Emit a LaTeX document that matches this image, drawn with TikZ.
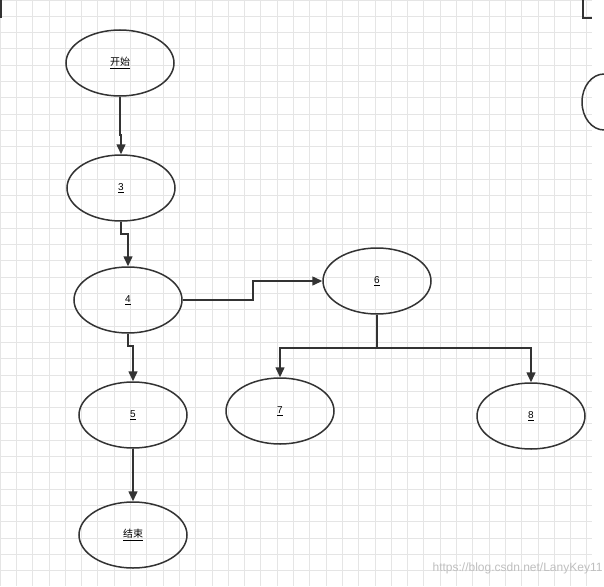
\documentclass[tikz,border=0pt]{standalone}
\usepackage{fontspec}
\setmainfont{Liberation Sans}
\newfontfamily\cjk{Noto Sans CJK SC}
\usetikzlibrary{positioning,arrows.meta,shapes.geometric}
\tikzstyle{stage}=[ellipse,draw=black!80,line width=1.5pt,minimum width=108pt,minimum height=66pt,inner sep=0,font=\normalsize]
\tikzstyle{flow}=[draw=black!80,line width=1.5pt,-{Triangle[length=10pt,width=9pt]}]
\begin{document}
\begin{tikzpicture}[x=1pt,y=-1pt]
\useasboundingbox (0,0) rectangle (604,586);
\fill[white] (0,0) rectangle (604,586);
\foreach \i in {0,...,36}
  \draw[black!10,line width=0.8pt] (\i*16.3,0) -- (\i*16.3,586);
\foreach \j in {0,...,35}
  \draw[black!10,line width=0.8pt] (0,\j*16.3) -- (592,\j*16.3);
% nodes
\node[stage] (start) at (120,63) {\cjk\underline{开始}};
\node[stage] (n3) at (121,188) {\underline{3}};
\node[stage] (n4) at (128,300) {\underline{4}};
\node[stage] (n5) at (133,415) {\underline{5}};
\node[stage] (end) at (133,535) {\cjk\underline{结束}};
\node[stage] (n6) at (377,281) {\underline{6}};
\node[stage] (n7) at (280,411) {\underline{7}};
\node[stage] (n8) at (531,416) {\underline{8}};
% connectors
\draw[flow] (start.south) -- ++(0,38) -| (n3.north);
\draw[flow] (n3.south) -- ++(0,12) -| (n4.north);
\draw[flow] (n4.east) -- ++(70,0) |- (n6.west);
\draw[flow] (n4.south) -- ++(0,12) -| (n5.north);
\draw[flow] (n5.south) -- (end.north);
\draw[flow] (n6.south) -- ++(0,33) -| (n7.north);
\draw[flow] (n6.south) -- ++(0,33) -| (n8.north);
% cut-off shapes at the edges
\draw[black!80,line width=1.5pt] (583,0) -- (583,18) -- (592,18);
\draw[black!80,line width=1.5pt] (604,130) arc (90:270:22 and 28);
\draw[black!80,line width=1.5pt] (1,0) -- (1,18);
\node[black!25,font=\large,anchor=east] (mark) at (606,568) {https://blog.csdn.net/LanyKey11};
\end{tikzpicture}
\end{document}
